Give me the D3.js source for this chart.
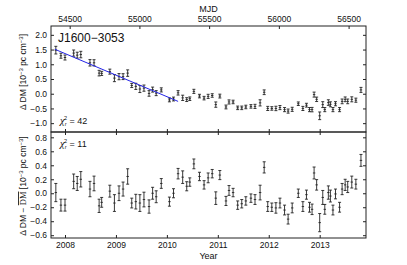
<!DOCTYPE html>
<html>
<head>
<meta charset="utf-8">
<script src="https://cdn.jsdelivr.net/npm/d3@7"></script>
<style>
  body { margin: 0; background: #fff; }
  text { font-family: "Liberation Sans", Arial, sans-serif; fill: #111; }
</style>
</head>
<body>
<svg id="chart"></svg>
<script>
// Epochs (decimal year) for each DM measurement
const years = [2007.82, 2007.92, 2008.00, 2008.17, 2008.24, 2008.31, 2008.49, 2008.57, 2008.67, 2008.72,
  2008.88, 2008.97, 2009.06, 2009.14, 2009.23, 2009.31, 2009.39, 2009.47, 2009.55, 2009.65,
  2009.72, 2009.79, 2009.89, 2010.05, 2010.13, 2010.22, 2010.31, 2010.39, 2010.45, 2010.53,
  2010.64, 2010.73, 2010.81, 2010.89, 2010.96, 2011.04, 2011.16, 2011.22, 2011.30, 2011.39,
  2011.47, 2011.55, 2011.65, 2011.73, 2011.83, 2011.91, 2011.98, 2012.06, 2012.14, 2012.22,
  2012.31, 2012.38, 2012.46, 2012.58, 2012.67, 2012.74, 2012.80, 2012.85, 2012.89, 2012.94,
  2013.00, 2013.06, 2013.10, 2013.17, 2013.21, 2013.26, 2013.31, 2013.39, 2013.44, 2013.50,
  2013.55, 2013.63, 2013.71, 2013.81];

// Delta DM (1e-3 pc cm^-3)
const dmValues = [1.48, 1.29, 1.23, 1.38, 1.31, 1.33, 1.05, 1.05, 0.70, 0.69,
  0.75, 0.53, 0.58, 0.58, 0.70, 0.28, 0.25, 0.16, 0.19, 0.01,
  0.14, 0.02, 0.13, -0.21, -0.18, 0.03, -0.14, -0.20, -0.17, 0.08,
  -0.08, -0.15, -0.09, -0.06, -0.37, -0.08, -0.45, -0.28, -0.28, -0.48,
  -0.48, -0.45, -0.43, -0.43, -0.31, 0.05, -0.50, -0.50, -0.50, -0.47,
  -0.54, -0.59, -0.53, -0.34, -0.50, -0.39, -0.54, -0.54, -0.03, -0.19,
  -0.75, -0.37, -0.54, -0.30, -0.36, -0.54, -0.34, -0.54, -0.26, -0.19,
  -0.26, -0.19, -0.22, 0.13];

// Delta DM minus mean DM model
const dmResiduals = [0.01, -0.17, -0.17, 0.17, 0.14, 0.20, 0.06, 0.14, -0.18, -0.13,
  0.03, -0.14, 0.00, 0.06, 0.24, -0.14, -0.12, -0.14, -0.09, -0.19,
  0.00, -0.05, 0.14, -0.12, 0.00, 0.28, 0.23, 0.10, 0.16, 0.42,
  0.24, 0.12, 0.22, 0.28, -0.07, 0.26, -0.11, 0.04, 0.01, -0.17,
  -0.15, -0.11, -0.07, -0.09, 0.01, 0.37, -0.19, -0.20, -0.21, -0.14,
  -0.24, -0.37, -0.21, 0.00, -0.19, -0.02, -0.20, -0.23, 0.29, 0.12,
  -0.42, -0.06, -0.23, 0.01, -0.04, -0.24, -0.01, -0.20, 0.06, 0.12,
  0.09, 0.16, 0.13, 0.47];

// 1-sigma uncertainties
const dmErrors = [0.13, 0.085, 0.085, 0.105, 0.10, 0.11, 0.11, 0.105, 0.095, 0.07,
  0.085, 0.12, 0.105, 0.10, 0.11, 0.07, 0.105, 0.12, 0.105, 0.095,
  0.085, 0.085, 0.07, 0.065, 0.065, 0.075, 0.09, 0.065, 0.06, 0.07,
  0.06, 0.06, 0.07, 0.06, 0.09, 0.065, 0.065, 0.07, 0.06, 0.06,
  0.06, 0.06, 0.06, 0.07, 0.105, 0.08, 0.07, 0.06, 0.075, 0.07,
  0.07, 0.07, 0.07, 0.06, 0.07, 0.065, 0.07, 0.075, 0.085, 0.075,
  0.13, 0.10, 0.07, 0.095, 0.085, 0.07, 0.07, 0.07, 0.08, 0.08,
  0.08, 0.085, 0.07, 0.085];

// linear fit over the early part
const fitYears = [2007.80, 2010.22];
const fitValues = [1.51, -0.26];

const yearTicks = [2008, 2009, 2010, 2011, 2012, 2013];
const mjdTicks = [54500, 55000, 55500, 56000, 56500];
const upperTicks = [-1.0, -0.5, 0.0, 0.5, 1.0, 1.5, 2.0];
const lowerTicks = [-0.6, -0.4, -0.2, 0.0, 0.2, 0.4, 0.6, 0.8];

const width = 407, height = 265;
const plotLeft = 51, plotRight = 366, plotTop = 26, plotMid = 132, plotBottom = 238;

const svg = d3.select("#chart").attr("width", width).attr("height", height);

const x = d3.scaleLinear().domain([2007.725, 2013.909]).range([plotLeft, plotRight]);
const mjdToYear = m => 2000 + (m - 51544.5) / 365.25;

const yUp = d3.scaleLinear().domain([-1.3, 2.3]).range([plotMid, plotTop]);
const yLow = d3.scaleLinear().domain([-0.64, 0.876]).range([plotBottom, plotMid]);

const fmt = d3.format(".1f");
const tickColor = "#222";

function styleAxis(g) {
  g.select(".domain").remove();
  g.selectAll(".tick line").attr("stroke", tickColor);
  g.selectAll(".tick text").attr("font-size", 8.5).attr("fill", "#111")
    .style("font-family", '"Liberation Sans", Arial, sans-serif');
}

function panel(yScale, ticks, values, y0, y1) {
  const g = svg.append("g");
  g.append("g").attr("transform", `translate(${plotLeft},0)`)
    .call(d3.axisLeft(yScale).tickValues(ticks).tickFormat(fmt).tickSize(-3).tickPadding(4))
    .call(styleAxis);
  g.append("g").attr("transform", `translate(${plotRight},0)`)
    .call(d3.axisRight(yScale).tickValues(ticks).tickFormat("").tickSize(-3))
    .call(styleAxis);

  const pts = g.append("g").attr("stroke", "#222").attr("stroke-width", 0.9);
  years.forEach((yr, i) => {
    const cx = x(yr), v = values[i], e = dmErrors[i];
    const ya = yScale(v - e), yb = yScale(v + e), yc = yScale(v);
    pts.append("line").attr("x1", cx).attr("x2", cx).attr("y1", ya).attr("y2", yb);
    pts.append("line").attr("x1", cx - 1.5).attr("x2", cx + 1.5).attr("y1", ya).attr("y2", ya);
    pts.append("line").attr("x1", cx - 1.5).attr("x2", cx + 1.5).attr("y1", yb).attr("y2", yb);
    pts.append("line").attr("x1", cx - 1.2).attr("x2", cx + 1.2).attr("y1", yc).attr("y2", yc);
  });

  g.append("rect").attr("x", plotLeft).attr("y", y0).attr("width", plotRight - plotLeft).attr("height", y1 - y0)
    .attr("fill", "none").attr("stroke", "#222").attr("stroke-width", 1);
  return g;
}

const up = panel(yUp, upperTicks, dmValues, plotTop, plotMid);
const low = panel(yLow, lowerTicks, dmResiduals, plotMid, plotBottom);

// fit line
up.append("path")
  .datum(fitYears.map((d, i) => [d, fitValues[i]]))
  .attr("fill", "none").attr("stroke", "#2323e6").attr("stroke-width", 1)
  .attr("d", d3.line().x(d => x(d[0])).y(d => yUp(d[1])));

// top MJD axis
svg.append("g").attr("transform", `translate(0,${plotTop})`)
  .call(d3.axisTop(x).tickValues(mjdTicks.map(mjdToYear)).tickFormat((d, i) => mjdTicks[i]).tickSize(-3).tickPadding(4))
  .call(styleAxis);
// year ticks between panels
svg.append("g").attr("transform", `translate(0,${plotMid})`)
  .call(d3.axisBottom(x).tickValues(yearTicks).tickFormat("").tickSize(-3)).call(styleAxis);
svg.append("g").attr("transform", `translate(0,${plotMid})`)
  .call(d3.axisTop(x).tickValues(yearTicks).tickFormat("").tickSize(-3)).call(styleAxis);
// bottom year axis
svg.append("g").attr("transform", `translate(0,${plotBottom})`)
  .call(d3.axisBottom(x).tickValues(yearTicks).tickFormat(d3.format("d")).tickSize(-3).tickPadding(4))
  .call(styleAxis);

// axis titles
svg.append("text").attr("x", (plotLeft + plotRight) / 2).attr("y", 12).attr("text-anchor", "middle")
  .attr("font-size", 9).text("MJD");
svg.append("text").attr("x", (plotLeft + plotRight) / 2).attr("y", 259).attr("text-anchor", "middle")
  .attr("font-size", 9).text("Year");

function unitLabel(cy, withMean) {
  const txt = svg.append("text").attr("transform", `translate(26,${cy}) rotate(-90)`)
    .attr("text-anchor", "middle").attr("font-size", 8.5);
  txt.append("tspan").text("\u0394 DM");
  if (withMean) {
    txt.append("tspan").text(" \u2212 ");
    txt.append("tspan").style("text-decoration", "overline").attr("font-family", "Liberation Serif, serif").text("DM");
  }
  txt.append("tspan").text(" [10");
  txt.append("tspan").attr("font-size", 6).attr("dy", -3.5).text("\u22123");
  txt.append("tspan").attr("dy", 3.5).text(" pc cm");
  txt.append("tspan").attr("font-size", 6).attr("dy", -3.5).text("\u22123");
  txt.append("tspan").attr("dy", 3.5).text("]");
}
unitLabel(72, false);
unitLabel(186, true);

// pulsar name
svg.append("text").attr("x", 58).attr("y", 42).attr("font-size", 12).text("J1600\u22123053");

function chiLabel(yb, val) {
  const t = svg.append("text").attr("x", 60).attr("y", yb).attr("font-size", 9);
  t.append("tspan").attr("font-family", "Liberation Serif, serif").attr("font-style", "italic")
    .attr("font-size", 10.5).text("\u03c7");
  t.append("tspan").attr("font-size", 5.5).attr("dy", 2).attr("font-style", "italic").text("r");
  t.append("tspan").attr("font-size", 5.5).attr("dx", -2.5).attr("dy", -6).text("2");
  t.append("tspan").attr("dy", 4).text(" = " + val);
}
chiLabel(123.5, 42);
chiLabel(147, 11);
</script>
</body>
</html>
